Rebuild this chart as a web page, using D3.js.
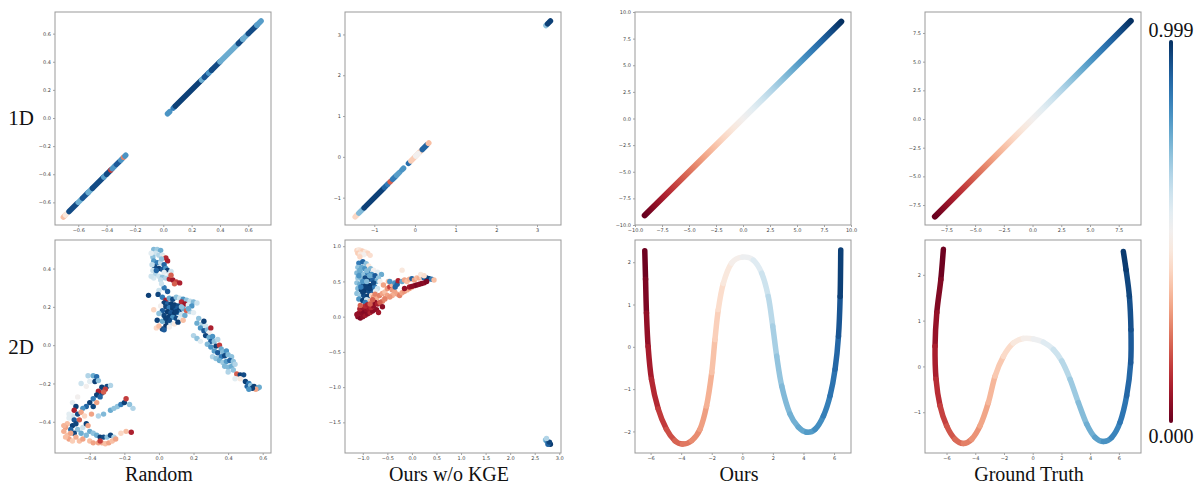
<!DOCTYPE html>
<html>
<head>
<meta charset="utf-8">
<script src="https://cdn.jsdelivr.net/npm/d3@7"></script>
<style>
body { margin: 0; background: #fff; }
</style>
</head>
<body>
<svg id="fig" width="1195" height="484"></svg>
<script>
// column titles, row labels, colorbar labels
const colTitles = ["Random", "Ours w/o KGE", "Ours", "Ground Truth"];
const rowLabels = ["1D", "2D"];
const cbarLabels = ["0.999", "0.000"];

// tick labels per panel
const ticks1DRandom = [-0.6, -0.4, -0.2, 0.0, 0.2, 0.4, 0.6];
const ticks1DNoKge = [-1, 0, 1, 2, 3];
const ticks1DOurs = [-10, -7.5, -5, -2.5, 0, 2.5, 5, 7.5, 10];
const ticks1DTruth = [-7.5, -5, -2.5, 0, 2.5, 5, 7.5];
const ticks2DRandomX = [-0.4, -0.2, 0.0, 0.2, 0.4, 0.6];
const ticks2DRandomY = [-0.4, -0.2, 0.0, 0.2, 0.4];
const ticks2DNoKgeX = [-1.0, -0.5, 0.0, 0.5, 1.0, 1.5, 2.0, 2.5, 3.0];
const ticks2DNoKgeY = [-1.5, -1.0, -0.5, 0.0, 0.5, 1.0];
const ticks2DOursX = [-6, -4, -2, 0, 2, 4, 6];
const ticks2DOursY = [-2, -1, 0, 1, 2];
const ticks2DTruthX = [-6, -4, -2, 0, 2, 4, 6];
const ticks2DTruthY = [-1, 0, 1, 2];

// 1D random: runs along y = x  [from, to, value]
const random1D = [
  [-0.705, -0.69, 0.35], [-0.69, -0.675, 0.45], [-0.665, -0.61, 0.95], [-0.6, -0.575, 0.75],
  [-0.57, -0.53, 0.93], [-0.53, -0.5, 0.75], [-0.5, -0.42, 0.95], [-0.42, -0.4, 0.78],
  [-0.4, -0.375, 0.95], [-0.37, -0.365, 0.15], [-0.36, -0.34, 0.8], [-0.33, -0.31, 0.92],
  [-0.3, -0.29, 0.8], [-0.28, -0.28, 0.25], [-0.27, -0.265, 0.8],
  [0.03, 0.045, 0.8], [0.07, 0.08, 0.85], [0.085, 0.27, 0.97], [0.27, 0.29, 0.75],
  [0.29, 0.32, 0.93], [0.32, 0.34, 0.8], [0.34, 0.4, 0.95], [0.4, 0.53, 0.75],
  [0.53, 0.56, 0.95], [0.56, 0.6, 0.75], [0.6, 0.66, 0.95], [0.66, 0.69, 0.78]
];

// 1D without KGE: runs along y = x
const noKge1D = [
  [-1.47, -1.42, 0.4], [-1.38, -1.25, 0.72], [-1.25, -0.78, 0.97], [-0.75, -0.7, 0.9],
  [-0.67, -0.66, 0.85], [-0.61, -0.6, 0.2], [-0.55, -0.48, 0.85], [-0.45, -0.38, 0.78],
  [-0.32, -0.28, 0.8], [-0.16, -0.14, 0.88], [-0.1, 0.17, 0.38], [0.02, 0.08, 0.5],
  [0.18, 0.29, 0.9], [0.33, 0.34, 0.35], [3.22, 3.25, 0.7], [3.26, 3.33, 0.97]
];

// 1D ours / ground truth: straight line, value 0 at start to 1 at end
const ours1D = [-9.1, 9.1];
const truth1D = [-8.5, 8.55];

// 2D random embedding [x, y, value]
const random2D = [
  [-0.03,0.50,0.72],[-0.01,0.50,0.68],[0.01,0.495,0.75],[-0.02,0.48,0.6],[0.0,0.47,0.65],[0.02,0.47,0.58],
  [-0.035,0.46,0.7],[0.03,0.46,0.45],[0.04,0.455,0.12],[0.05,0.44,0.1],[-0.03,0.44,0.78],[-0.01,0.43,0.85],
  [0.01,0.43,0.62],[0.03,0.42,0.9],[-0.025,0.41,0.95],[0.0,0.40,0.97],[0.02,0.395,0.92],[0.04,0.40,0.8],
  [0.05,0.39,0.97],[-0.035,0.39,0.6],[0.07,0.385,0.6],[0.06,0.37,0.55],[-0.02,0.37,0.65],[0.0,0.36,0.6],
  [0.02,0.355,0.7],[0.04,0.35,0.65],[-0.03,0.35,0.58],[0.01,0.34,0.62],[0.06,0.345,0.12],[0.08,0.34,0.08],
  [0.1,0.33,0.15],[0.12,0.325,0.1],[0.09,0.32,0.2],[0.03,0.30,0.85],[0.0,0.285,0.6],[-0.005,0.265,0.96],
  [0.05,0.28,0.92],[-0.06,0.26,0.97],[0.07,0.365,0.2],[-0.045,0.48,0.55],[-0.04,0.42,0.62],[0.015,0.45,0.7],
  [-0.015,0.39,0.9],[0.03,0.38,0.55],[-0.045,0.36,0.6],[0.015,0.32,0.6],
  [0.02,0.25,0.85],[0.04,0.235,0.1],[0.06,0.245,0.75],[0.08,0.24,0.95],[0.1,0.25,0.7],[0.12,0.245,0.6],
  [0.14,0.24,0.8],[0.16,0.235,0.7],[0.18,0.23,0.62],[0.2,0.225,0.72],[0.22,0.22,0.6],[0.13,0.225,0.12],
  [0.15,0.215,0.08],[0.17,0.21,0.55],[0.19,0.205,0.8],[0.03,0.22,0.97],[0.05,0.215,0.9],[0.07,0.215,0.97],
  [0.09,0.21,0.98],[0.11,0.205,0.95],[0.01,0.205,0.5],[0.04,0.2,0.96],[0.06,0.195,0.85],[0.08,0.19,0.98],
  [0.1,0.19,0.92],[0.12,0.185,0.97],[0.14,0.19,0.75],[0.16,0.18,0.2],[0.18,0.175,0.65],[0.02,0.18,0.92],
  [0.05,0.175,0.98],[0.07,0.17,0.93],[0.09,0.165,0.98],[0.11,0.17,0.85],[0.13,0.16,0.6],[0.15,0.155,0.75],
  [-0.03,0.185,0.4],[0.0,0.165,0.7],[0.03,0.155,0.96],[0.06,0.15,0.97],[0.08,0.145,0.8],[0.1,0.14,0.95],
  [0.12,0.135,0.55],[0.2,0.17,0.55],[-0.01,0.13,0.97],[0.02,0.125,0.75],[0.05,0.12,0.97],[0.07,0.115,0.6],
  [0.09,0.11,0.45],[0.04,0.1,0.98],[0.06,0.095,0.5],[-0.015,0.09,0.4],[0.02,0.085,0.95],[0.0,0.1,0.35],
  [0.11,0.12,0.97],[0.14,0.13,0.35],[0.03,0.08,0.92],[0.08,0.205,0.97],[0.1,0.175,0.97],[0.06,0.13,0.95],
  [0.04,0.14,0.97],[0.13,0.2,0.7],[0.17,0.19,0.75],
  [0.23,0.14,0.7],[0.22,0.115,0.75],[0.25,0.11,0.65],[0.24,0.09,0.8],[0.27,0.1,0.6],[0.26,0.075,0.92],
  [0.28,0.08,0.72],[0.29,0.065,0.5],[0.3,0.09,0.1],[0.2,0.05,0.65],[0.22,0.035,0.7],[0.27,0.05,0.96],
  [0.29,0.04,0.75],[0.31,0.045,0.8],[0.3,0.02,0.92],[0.32,0.02,0.7],[0.34,0.03,0.65],[0.28,0.005,0.72],
  [0.3,-0.01,0.8],[0.33,-0.005,0.97],[0.35,0.0,0.15],[0.36,-0.02,0.75],[0.32,-0.03,0.78],[0.34,-0.04,0.92],
  [0.37,-0.035,0.72],[0.39,-0.03,0.8],[0.31,-0.06,0.65],[0.33,-0.07,0.7],[0.36,-0.06,0.85],[0.38,-0.055,0.95],
  [0.4,-0.05,0.72],[0.42,-0.06,0.7],[0.35,-0.08,0.75],[0.37,-0.09,0.68],[0.39,-0.085,0.78],[0.41,-0.08,0.9],
  [0.43,-0.085,0.7],[0.38,-0.11,0.72],[0.4,-0.115,0.72],[0.42,-0.11,0.75],[0.44,-0.1,0.65],[0.4,-0.14,0.65],
  [0.43,-0.13,0.7],[0.45,-0.15,0.2],[0.47,-0.155,0.97],[0.49,-0.155,0.95],[0.44,-0.175,0.55],[0.47,-0.175,0.45],
  [0.5,-0.19,0.97],[0.52,-0.2,0.85],[0.51,-0.215,0.9],[0.53,-0.21,0.7],[0.55,-0.215,0.97],[0.57,-0.225,0.8],
  [0.58,-0.22,0.75],[0.56,-0.23,0.3],[0.54,-0.225,0.97],[0.52,-0.23,0.8],[0.26,0.125,0.97],[0.24,0.02,0.55],
  [-0.41,-0.16,0.65],[-0.38,-0.16,0.75],[-0.36,-0.165,0.88],[-0.4,-0.19,0.55],[-0.37,-0.19,0.97],[-0.35,-0.185,0.7],
  [-0.45,-0.2,0.6],[-0.42,-0.215,0.5],[-0.33,-0.22,0.97],[-0.3,-0.215,0.95],[-0.28,-0.21,0.65],[-0.31,-0.23,0.15],
  [-0.33,-0.25,0.96],[-0.35,-0.24,0.1],[-0.36,-0.26,0.97],[-0.34,-0.27,0.9],[-0.32,-0.245,0.2],[-0.38,-0.28,0.85],
  [-0.4,-0.3,0.97],[-0.42,-0.32,0.9],[-0.38,-0.32,0.96],[-0.36,-0.3,0.3],[-0.44,-0.33,0.8],
  [-0.28,-0.34,0.75],[-0.26,-0.33,0.7],[-0.24,-0.32,0.7],[-0.22,-0.31,0.85],[-0.2,-0.3,0.97],[-0.19,-0.28,0.15],
  [-0.17,-0.31,0.7],[-0.15,-0.33,0.65],[-0.32,-0.36,0.72],[-0.35,-0.37,0.65],[-0.39,-0.36,0.3],
  [-0.5,-0.3,0.55],[-0.48,-0.32,0.97],[-0.49,-0.34,0.1],[-0.47,-0.36,0.95],[-0.5,-0.37,0.6],[-0.52,-0.38,0.55],
  [-0.45,-0.35,0.3],[-0.43,-0.37,0.4],[-0.49,-0.39,0.92],[-0.46,-0.39,0.2],[-0.5,-0.42,0.97],[-0.48,-0.41,0.96],
  [-0.51,-0.44,0.9],[-0.47,-0.44,0.7],[-0.49,-0.46,0.96],[-0.53,-0.41,0.35],[-0.54,-0.43,0.3],[-0.55,-0.45,0.32],
  [-0.53,-0.47,0.35],[-0.52,-0.49,0.3],[-0.5,-0.5,0.38],[-0.48,-0.48,0.32],[-0.46,-0.5,0.35],[-0.44,-0.49,0.3],
  [-0.42,-0.47,0.72],[-0.4,-0.45,0.75],[-0.38,-0.46,0.7],[-0.36,-0.47,0.75],[-0.34,-0.48,0.97],[-0.32,-0.48,0.95],
  [-0.3,-0.48,0.7],[-0.28,-0.47,0.96],[-0.26,-0.48,0.65],[-0.35,-0.51,0.3],[-0.33,-0.51,0.32],[-0.31,-0.515,0.35],
  [-0.29,-0.51,0.3],[-0.27,-0.5,0.35],[-0.25,-0.49,0.3],[-0.22,-0.46,0.4],[-0.19,-0.45,0.35],[-0.16,-0.455,0.1],
  [-0.34,-0.5,0.15],[-0.4,-0.5,0.35],[-0.38,-0.51,0.3],[-0.45,-0.46,0.75],[-0.44,-0.43,0.6],[-0.42,-0.41,0.97],
  [-0.41,-0.42,0.3],[-0.47,-0.27,0.5],[-0.52,-0.36,0.55],[-0.55,-0.42,0.33],[-0.54,-0.48,0.35],[-0.51,-0.46,0.3]
];

// 2D embedding without KGE [x, y, value]
const noKge2D = [
  [-1.12,0.94,0.4],[-1.08,0.95,0.45],[-1.04,0.94,0.42],[-1.0,0.93,0.38],[-0.95,0.92,0.45],[-0.9,0.9,0.4],
  [-1.1,0.9,0.38],[-1.05,0.89,0.45],[-0.98,0.88,0.5],[-0.85,0.87,0.42],[-1.06,0.85,0.4],
  [-1.08,0.76,0.85],[-1.0,0.78,0.9],[-0.93,0.75,0.7],[-0.88,0.72,0.45],[-1.1,0.7,0.7],[-1.02,0.7,0.75],
  [-0.96,0.68,0.8],[-0.84,0.68,0.72],[-0.78,0.66,0.5],[-0.7,0.63,0.55],[-0.62,0.6,0.75],[-1.12,0.62,0.72],
  [-1.05,0.62,0.78],[-0.98,0.6,0.7],[-0.9,0.62,0.85],[-0.82,0.6,0.8],[-0.75,0.58,0.92],[-0.68,0.55,0.7],
  [-1.1,0.55,0.68],[-1.03,0.54,0.72],[-0.95,0.55,0.95],[-0.88,0.53,0.97],[-0.8,0.52,0.9],[-0.72,0.5,0.75],
  [-0.65,0.5,0.5],[-1.12,0.48,0.7],[-1.06,0.46,0.75],[-0.98,0.46,0.97],[-0.9,0.45,0.95],[-0.84,0.44,0.98],
  [-0.76,0.42,0.85],[-0.7,0.4,0.6],[-1.1,0.4,0.72],[-1.03,0.38,0.97],[-0.96,0.37,0.98],[-0.88,0.36,0.95],
  [-0.8,0.36,0.92],[-1.12,0.33,0.7],[-1.05,0.31,0.68],[-0.98,0.3,0.95],[-0.9,0.29,0.97],[-0.82,0.3,0.4],
  [-1.08,0.25,0.8],[-1.0,0.23,0.97],[-0.92,0.24,0.6],[-0.85,0.22,0.35],[-0.95,0.2,0.85],
  [-1.06,0.66,0.75],[-1.0,0.5,0.8],[-0.92,0.5,0.72],[-0.86,0.58,0.75],[-0.94,0.42,0.97],[-1.0,0.35,0.97],
  [-0.86,0.4,0.97],[-1.08,0.58,0.8],[-0.92,0.65,0.72],[-0.78,0.48,0.95],[-0.74,0.36,0.55],[-1.04,0.42,0.85],
  [-0.78,0.28,0.3],[-0.72,0.26,0.32],[-0.66,0.3,0.25],[-0.6,0.33,0.3],[-0.55,0.35,0.35],[-0.5,0.4,0.28],
  [-0.45,0.42,0.15],[-0.4,0.45,0.33],[-0.35,0.48,0.8],[-0.3,0.46,0.9],[-0.28,0.51,0.1],[-0.2,0.5,0.75],
  [-0.15,0.52,0.3],[-0.1,0.5,0.35],[-0.05,0.53,0.32],[0.0,0.54,0.9],[0.05,0.52,0.3],[0.1,0.55,0.35],
  [0.15,0.55,0.32],[0.2,0.56,0.38],[0.25,0.55,0.9],[0.3,0.55,0.95],[0.35,0.54,0.97],[0.4,0.53,0.85],
  [0.45,0.52,0.35],[0.18,0.6,0.45],[0.25,0.58,0.42],[-0.2,0.66,0.45],[-0.48,0.5,0.35],[-0.58,0.45,0.3],
  [-0.4,0.38,0.28],[-0.35,0.35,0.3],[-0.3,0.32,0.3],[-0.25,0.3,0.25],[-0.4,0.3,0.32],[-0.2,0.34,0.3],
  [-0.15,0.36,0.28],[-0.1,0.38,0.32],[-0.05,0.4,0.3],[0.0,0.42,0.3],[-0.5,0.3,0.3],[-0.45,0.28,0.28],
  [-0.6,0.22,0.25],[-0.55,0.26,0.3],[-0.34,0.42,0.9],[-0.45,0.5,0.8],[-0.55,0.25,0.25],
  [0.05,0.44,0.05],[0.1,0.45,0.03],[0.15,0.46,0.05],[0.2,0.47,0.04],[0.25,0.48,0.05],[0.3,0.5,0.03],
  [-0.05,0.42,0.08],[0.0,0.43,0.05],[-0.15,0.4,0.06],
  [-1.1,0.0,0.05],[-1.05,-0.02,0.03],[-1.0,0.0,0.05],[-0.95,0.02,0.08],[-0.9,0.04,0.05],[-0.85,0.06,0.1],
  [-0.8,0.08,0.05],[-1.08,0.05,0.08],[-1.03,0.06,0.05],[-0.98,0.08,0.04],[-0.93,0.1,0.06],[-0.88,0.12,0.08],
  [-0.83,0.13,0.12],[-0.78,0.15,0.06],[-1.06,0.11,0.1],[-1.0,0.13,0.07],[-0.95,0.15,0.12],[-0.9,0.17,0.1],
  [-0.85,0.18,0.2],[-0.75,0.2,0.05],[-0.7,0.18,0.1],[-0.65,0.2,0.2],[-0.6,0.14,0.05],[-0.72,0.1,0.05],
  [-0.68,0.06,0.08],[-1.12,0.03,0.06],[-1.05,0.16,0.2],[-0.8,0.24,0.2],[-0.75,0.32,0.25],
  [2.72,-1.75,0.7],[2.75,-1.77,0.8],[2.78,-1.79,0.95],[2.8,-1.8,0.97],[2.82,-1.81,0.98],[2.77,-1.81,0.9],
  [2.8,-1.78,0.96],[2.74,-1.73,0.65]
];

// 2D ours: curve samples [x, y, value]
const ours2D = [
  [-6.38,2.27,0.0],[-6.33,1.6,0.02],[-6.27,0.8,0.04],[-6.16,0.0,0.08],[-5.94,-0.77,0.1],[-5.5,-1.47,0.13],
  [-4.96,-1.95,0.16],[-4.41,-2.22,0.19],[-3.91,-2.3,0.22],[-3.32,-2.22,0.25],[-2.77,-1.95,0.28],[-2.34,-1.4,0.31],
  [-2.0,-0.61,0.34],[-1.79,0.17,0.37],[-1.57,0.88,0.4],[-1.24,1.5,0.43],[-0.7,1.98,0.47],[0.0,2.12,0.5],
  [0.72,2.05,0.54],[1.27,1.74,0.58],[1.7,1.19,0.62],[1.99,0.49,0.65],[2.25,-0.22,0.68],[2.58,-0.93,0.71],
  [3.12,-1.59,0.73],[3.67,-1.9,0.75],[4.21,-2.02,0.77],[4.76,-1.95,0.8],[5.31,-1.63,0.83],[5.74,-1.16,0.86],
  [6.07,-0.53,0.88],[6.29,0.25,0.91],[6.4,1.19,0.95],[6.44,2.29,0.99]
];

// 2D ground truth: curve samples [x, y, value]
const truth2D = [
  [-6.22,2.56,0.0],[-6.4,1.89,0.02],[-6.68,1.17,0.05],[-6.8,0.44,0.08],[-6.73,-0.28,0.11],[-6.45,-0.86,0.14],
  [-5.99,-1.3,0.17],[-5.41,-1.59,0.2],[-4.83,-1.68,0.23],[-4.25,-1.59,0.26],[-3.67,-1.3,0.29],[-3.09,-0.79,0.32],
  [-2.62,-0.21,0.35],[-2.04,0.22,0.39],[-1.35,0.51,0.43],[-0.65,0.61,0.47],[0.05,0.6,0.5],[0.74,0.53,0.54],
  [1.44,0.37,0.58],[2.02,0.12,0.62],[2.6,-0.28,0.66],[3.18,-0.79,0.7],[3.76,-1.26,0.73],[4.34,-1.55,0.76],
  [4.92,-1.64,0.79],[5.5,-1.55,0.82],[6.08,-1.22,0.85],[6.54,-0.64,0.88],[6.82,0.08,0.91],[6.84,0.8,0.93],
  [6.73,1.53,0.95],[6.5,2.11,0.97],[6.31,2.51,0.99]
];

const svg = d3.select("#fig");
svg.append("rect").attr("width", 1195).attr("height", 484).attr("fill", "#fff");
const defs = svg.append("defs");
const cmap = d3.interpolateRdBu;

const colLeft = [55, 345, 635, 925];
const rowTop = [12, 240];
const pw = 216, ph = 213;

function makePanel(col, row, xDom, yDom, xTicks, yTicks, xFmt, yFmt) {
  const left = colLeft[col], top = rowTop[row];
  const x = d3.scaleLinear().domain(xDom).range([left, left + pw]);
  const y = d3.scaleLinear().domain(yDom).range([top + ph, top]);
  const g = svg.append("g");

  const xa = g.append("g").attr("transform", `translate(0,${top + ph})`)
    .call(d3.axisBottom(x).tickValues(xTicks).tickFormat(d3.format(xFmt)).tickSize(2).tickPadding(1.5));
  const ya = g.append("g").attr("transform", `translate(${left},0)`)
    .call(d3.axisLeft(y).tickValues(yTicks).tickFormat(d3.format(yFmt)).tickSize(2).tickPadding(2));
  [xa, ya].forEach(a => {
    a.select(".domain").remove();
    a.selectAll("line").attr("stroke", "#666").attr("stroke-width", 0.6);
    a.selectAll("text").attr("font-size", "5px").attr("font-family", "DejaVu Sans")
      .attr("fill", "#444");
  });

  g.append("rect").attr("x", left).attr("y", top).attr("width", pw).attr("height", ph)
    .attr("fill", "none").attr("stroke", "#999").attr("stroke-width", 1);

  return { g, x, y };
}

function drawRuns(p, runs) {
  p.g.selectAll("line.run").data(runs).join("line")
    .attr("class", "run")
    .attr("x1", d => p.x(d[0])).attr("y1", d => p.y(d[0]))
    .attr("x2", d => p.x(d[1])).attr("y2", d => p.y(d[1]))
    .attr("stroke", d => cmap(d[2]))
    .attr("stroke-width", 5.5)
    .attr("stroke-linecap", "round");
}

function drawRamp(p, ends, id) {
  const grad = defs.append("linearGradient").attr("id", id)
    .attr("gradientUnits", "userSpaceOnUse")
    .attr("x1", p.x(ends[0])).attr("y1", p.y(ends[0]))
    .attr("x2", p.x(ends[1])).attr("y2", p.y(ends[1]));
  grad.selectAll("stop").data(d3.range(0, 1.0001, 0.05)).join("stop")
    .attr("offset", d => d).attr("stop-color", d => cmap(d));
  p.g.append("line")
    .attr("x1", p.x(ends[0])).attr("y1", p.y(ends[0]))
    .attr("x2", p.x(ends[1])).attr("y2", p.y(ends[1]))
    .attr("stroke", `url(#${id})`)
    .attr("stroke-width", 6)
    .attr("stroke-linecap", "round");
}

function drawScatter(p, pts) {
  p.g.selectAll("circle.pt").data(pts).join("circle")
    .attr("class", "pt")
    .attr("cx", d => p.x(d[0])).attr("cy", d => p.y(d[1]))
    .attr("r", 2.7)
    .attr("fill", d => cmap(d[2]));
}

// smooth curve: each piece is a Catmull-Rom cubic between two samples
function drawCurve(p, pts) {
  const px = pts.map(d => [p.x(d[0]), p.y(d[1]), d[2]]);
  const n = px.length;
  const pieces = d3.range(n - 1).map(i => {
    const p0 = px[Math.max(i - 1, 0)], p1 = px[i], p2 = px[i + 1], p3 = px[Math.min(i + 2, n - 1)];
    const c1 = [p1[0] + (p2[0] - p0[0]) / 6, p1[1] + (p2[1] - p0[1]) / 6];
    const c2 = [p2[0] - (p3[0] - p1[0]) / 6, p2[1] - (p3[1] - p1[1]) / 6];
    return { d: `M${p1[0]},${p1[1]}C${c1[0]},${c1[1]} ${c2[0]},${c2[1]} ${p2[0]},${p2[1]}`, v: (p1[2] + p2[2]) / 2 };
  });
  p.g.selectAll("path.seg").data(pieces).join("path")
    .attr("class", "seg")
    .attr("d", d => d.d)
    .attr("fill", "none")
    .attr("stroke", d => cmap(d.v))
    .attr("stroke-width", 5.5)
    .attr("stroke-linecap", "round");
}

// row 1
const p1 = makePanel(0, 0, [-0.764, 0.76], [-0.761, 0.754], ticks1DRandom, ticks1DRandom, ".1f", ".1f");
drawRuns(p1, random1D);
const p2 = makePanel(1, 0, [-1.72, 3.59], [-1.67, 3.55], ticks1DNoKge, ticks1DNoKge, "d", "d");
drawRuns(p2, noKge1D);
const p3 = makePanel(2, 0, [-10, 10], [-10, 10], ticks1DOurs, ticks1DOurs, ".1f", ".1f");
drawRamp(p3, ours1D, "ramp1");
const p4 = makePanel(3, 0, [-9.36, 9.44], [-9.24, 9.33], ticks1DTruth, ticks1DTruth, ".1f", ".1f");
drawRamp(p4, truth1D, "ramp2");

// row 2
const p5 = makePanel(0, 1, [-0.601, 0.648], [-0.563, 0.549], ticks2DRandomX, ticks2DRandomY, ".1f", ".1f");
drawScatter(p5, random2D);
const p6 = makePanel(1, 1, [-1.362, 3.035], [-1.935, 1.088], ticks2DNoKgeX, ticks2DNoKgeY, ".1f", ".1f");
drawScatter(p6, noKge2D);
const p7 = makePanel(2, 1, [-7.02, 7.11], [-2.51, 2.525], ticks2DOursX, ticks2DOursY, "d", "d");
drawCurve(p7, ours2D);
const p8 = makePanel(3, 1, [-7.5, 7.54], [-1.89, 2.76], ticks2DTruthX, ticks2DTruthY, "d", "d");
drawCurve(p8, truth2D);

// labels
const serif = "Liberation Serif, Times New Roman, serif";
svg.selectAll("text.row").data(rowLabels).join("text")
  .attr("class", "row")
  .attr("x", 21).attr("y", (d, i) => [118, 347][i])
  .attr("text-anchor", "middle").attr("dominant-baseline", "central")
  .attr("font-family", serif).attr("font-size", "21px").attr("fill", "#111")
  .text(d => d);

svg.selectAll("text.col").data(colTitles).join("text")
  .attr("class", "col")
  .attr("x", (d, i) => colLeft[i] + pw / 2 - 4).attr("y", 481)
  .attr("text-anchor", "middle")
  .attr("font-family", serif).attr("font-size", "20px").attr("fill", "#111")
  .text(d => d);

// colorbar
const cbX = 1171, cbTop = 40, cbBot = 423;
const cbGrad = defs.append("linearGradient").attr("id", "cbar")
  .attr("x1", 0).attr("y1", 1).attr("x2", 0).attr("y2", 0);
cbGrad.selectAll("stop").data(d3.range(0, 1.0001, 0.05)).join("stop")
  .attr("offset", d => d).attr("stop-color", d => cmap(d));
svg.append("rect").attr("x", cbX - 2).attr("y", cbTop).attr("width", 4).attr("height", cbBot - cbTop)
  .attr("rx", 2).attr("fill", "url(#cbar)");
svg.selectAll("text.cb").data(cbarLabels).join("text")
  .attr("class", "cb")
  .attr("x", cbX).attr("y", (d, i) => [30, 436][i])
  .attr("text-anchor", "middle").attr("dominant-baseline", "central")
  .attr("font-family", serif).attr("font-size", "20px").attr("fill", "#111")
  .text(d => d);
</script>
</body>
</html>
